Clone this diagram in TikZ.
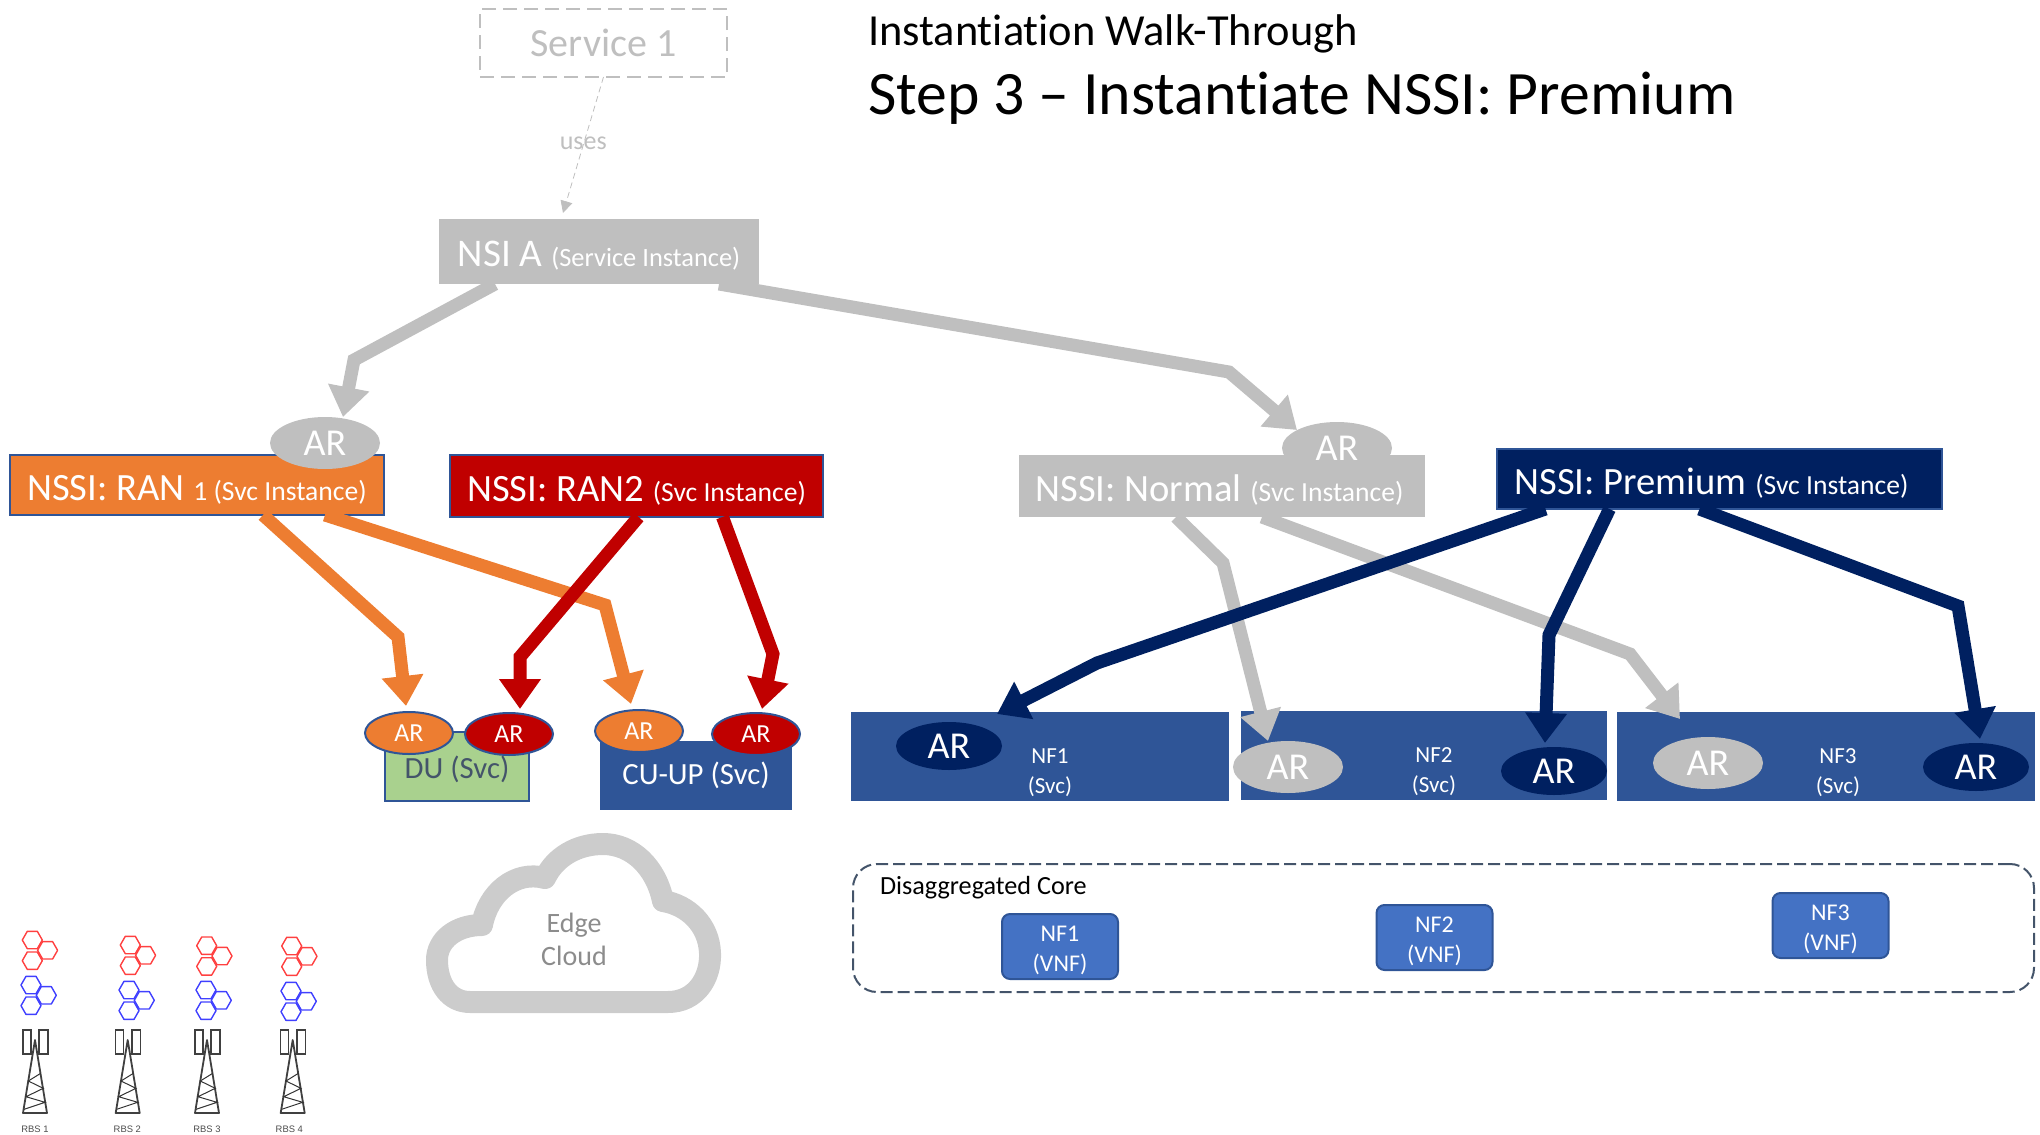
\documentclass[tikz,border=0pt]{standalone}
\usepackage{fontspec}
\setmainfont{Carlito}[Ligatures=CommonOff]
\newfontfamily\rbsfont{Liberation Sans}
\usetikzlibrary{arrows.meta, shapes.geometric, calc}
\definecolor{arorange}{HTML}{ED7D31}
\definecolor{arred}{HTML}{C00000}
\definecolor{arnavy}{HTML}{002060}
\definecolor{argray}{HTML}{BFBFBF}
\definecolor{nfblue}{HTML}{2F5597}
\definecolor{vnfblue}{HTML}{4472C4}
\definecolor{dugreen}{HTML}{A9D18E}
\definecolor{slate}{HTML}{44546A}
\newcommand{\bigsmall}[2]{\raisebox{0pt}[17pt][2pt]{{\fontsize{19.3}{22}\selectfont #1}{\fontsize{13.8}{16}\selectfont #2}}}
\newcommand{\vnflabel}[1]{\rule{0pt}{12pt}#1\\(VNF)}
\tikzset{
    box/.style={rectangle, inner sep=0pt, outer sep=0pt, text=white},
    arnode/.style={ellipse, inner sep=0pt, outer sep=0pt, text=white, minimum width=#1, minimum height=26pt, font=\fontsize{19}{21}\selectfont},
    arsmall/.style={ellipse, inner sep=0pt, outer sep=0pt, text=white, draw=nfblue, line width=1pt, minimum width=44pt, minimum height=21pt, font=\fontsize{13}{15}\selectfont},
    link/.style={line width=#1, -{Triangle[width=20pt,length=15pt]}},
    hexcell/.pic={\draw[line width=0.7pt, line join=round] (-10,0) -- (-5,-8.7) -- (5,-8.7) -- (10,0) -- (5,8.7) -- (-5,8.7) -- cycle;},
    hexcluster/.pic={\pic {hexcell}; \pic at (0,20.7) {hexcell}; \pic at (15.3,10.3) {hexcell};},
    tower/.pic={
        \draw[black!75, line width=0.8pt] (-12.3,-10) rectangle (-4.3,14);
        \draw[black!75, line width=0.8pt] (4,-10) rectangle (12.7,14);
        \draw[black!75, line width=0.9pt, line join=round] (-12,73) -- (0,0) -- (12,73) -- cycle;
        \draw[black!80, line width=0.5pt] (5.7,33.3) -- (-6.7,41) -- (8.3,48.3) -- (-9,56.7) -- (10,62.3) -- (-11,69.3);
    }
}
\begin{document}
\begin{tikzpicture}[x=0.5pt, y=-0.5pt]
    \useasboundingbox (0,0) rectangle (2040,1135);

    \node[anchor=west, font=\fontsize{22.2}{26}\selectfont] (walk) at (861,34) {Instantiation Walk-Through};
    \node[anchor=west, font=\fontsize{30.85}{36}\selectfont] (step) at (861,98) {Step 3 – Instantiate NSSI: Premium};

    \node[box, draw=argray, dashed, line width=1pt, dash pattern=on 7pt off 3.5pt, text=argray, minimum width=123.5pt, minimum height=34pt, font=\fontsize{20}{22}\selectfont] (service) at (603.5,43) {Service 1};
    \node[box, fill=argray, minimum width=160pt, minimum height=32.5pt] (nsi) at (599,251.5) {\raisebox{0pt}[17pt][2pt]{{\fontsize{19.6}{22}\selectfont NSI A }{\fontsize{13.2}{15}\selectfont (Service Instance)}}};
    \draw[argray, densely dashed, line width=0.4pt, -{Triangle[width=6pt,length=6pt]}] (service.south) -- ([xshift=-18pt,yshift=3pt]nsi.north) node[midway, inner sep=1pt, text=argray, yshift=1pt, font=\fontsize{13}{15}\selectfont] (uses) {uses};

    \node[box, fill=arorange, draw=nfblue, line width=1pt, minimum width=187pt, minimum height=30pt] (ran1) at (197,485) {\bigsmall{NSSI: RAN }{1 (Svc Instance)}};
    \node[box, fill=arred, draw=nfblue, line width=1pt, minimum width=186.5pt, minimum height=31pt] (ran2) at (636.5,486) {\bigsmall{NSSI: RAN2 }{(Svc Instance)}};
    \node[box, fill=argray, minimum width=203pt, minimum height=31pt] (normal) at (1222,486) {\hspace*{-2.5pt}\bigsmall{NSSI: Normal }{(Svc Instance)}};
    \node[box, fill=arnavy, draw=nfblue, line width=1pt, minimum width=222.5pt, minimum height=30pt] (premium) at (1719.5,479) {\hspace*{-8pt}\bigsmall{NSSI: Premium }{(Svc Instance)}};
    \node[arnode=55pt, fill=argray] (arran) at (325,443) {AR};
    \node[arnode=55pt, fill=argray] (arnormal) at (1337,448) {AR};

    \node[box, fill=dugreen, draw=nfblue, line width=1pt, minimum width=72pt, minimum height=34.5pt] (du) at (457,766.5) {};
    \node[text=slate, font=\fontsize{15.4}{18}\selectfont] (dulabel) at (457,769) {DU (Svc)};
    \node[box, fill=nfblue, minimum width=96pt, minimum height=34.5pt, font=\fontsize{15.4}{18}\selectfont] (cuup) at (696,775) {CU-UP (Svc)};
    \node[arsmall, fill=arorange] (ardua) at (409,733) {AR};
    \node[arsmall, fill=arred] (ardub) at (509,734) {AR};
    \node[arsmall, fill=arorange] (arcua) at (639,731) {AR};
    \node[arsmall, fill=arred] (arcub) at (756,734) {AR};

    \node[box, fill=nfblue, minimum width=189pt, minimum height=44.5pt] (nfa) at (1040,756.5) {};
    \node[box, fill=nfblue, minimum width=183pt, minimum height=44.5pt] (nfb) at (1424,755.5) {};
    \node[box, fill=nfblue, minimum width=209pt, minimum height=44.5pt] (nfc) at (1826,756.5) {};
    \node[text=white, align=center, font=\fontsize{11.5}{15}\selectfont] (nfalabel) at (1050,773) {NF1\\(Svc)};
    \node[text=white, align=center, font=\fontsize{11.5}{15}\selectfont] (nfblabel) at (1434,772) {NF2\\(Svc)};
    \node[text=white, align=center, font=\fontsize{11.5}{15}\selectfont] (nfclabel) at (1838,773) {NF3\\(Svc)};
    \node[arnode=53pt, minimum height=24pt, fill=arnavy] (arnfa) at (949,746) {AR};
    \node[arnode=55pt, fill=argray] (arnfbg) at (1288,767) {AR};
    \node[arnode=53pt, minimum height=24pt, fill=arnavy] (arnfb) at (1554,771) {AR};
    \node[arnode=55pt, fill=argray] (arnfcg) at (1708,763) {AR};
    \node[arnode=53pt, minimum height=24pt, fill=arnavy] (arnfc) at (1976,767) {AR};

    \draw[argray, link=6.5pt] ([xshift=-52pt]nsi.south) -- (354,360) -- ([xshift=9pt]arran.north);
    \draw[argray, link=6.5pt] ([xshift=60pt]nsi.south) -- (1229,372) -- ([xshift=-20pt,yshift=-4pt]arnormal.north);
    \draw[argray, link=6.5pt] ([xshift=-23pt]normal.south) -- (1223,563) -- ([xshift=-10pt]arnfbg.north);
    \draw[argray, link=6.5pt] ([xshift=20pt]normal.south) -- (1630,654) -- ([xshift=-14pt,yshift=9pt]arnfcg.north);

    \draw[arorange, link=6.5pt] ([xshift=33pt]ran1.south) -- (398,637) -- ([xshift=-1.5pt,yshift=3pt]ardua.north);
    \draw[arorange, link=6.5pt] ([xshift=64pt]ran1.south) -- (605,605) -- ([xshift=-4pt,yshift=3pt]arcua.north);
    \draw[arred, link=6.5pt] ([xshift=1pt]ran2.south) -- (520,657) -- ([xshift=5.5pt,yshift=2pt]ardub.north);
    \draw[arred, link=6.5pt] ([xshift=43pt]ran2.south) -- (773,654) -- ([xshift=3pt,yshift=2pt]arcub.north);

    \draw[arnavy, link=6.5pt] ([xshift=-87pt]premium.south) -- (1097,663) -- ([xshift=24pt,yshift=4pt]arnfa.north);
    \draw[arnavy, link=6.5pt] ([xshift=-55pt]premium.south) -- (1549,635) -- ([xshift=-4.5pt,yshift=2pt]arnfb.north);
    \draw[arnavy, link=6.5pt] ([xshift=-10pt]premium.south) -- (1958,606) -- ([xshift=2pt,yshift=2pt]arnfc.north);

    \node[box, draw=slate, line width=1pt, dashed, dash pattern=on 6pt off 2.5pt, rounded corners=12pt, minimum width=590.5pt, minimum height=64pt] (core) at (1443.5,928) {};
    \node[anchor=west, font=\fontsize{13.1}{15}\selectfont] (corelabel) at (873,888) {Disaggregated Core};
    \node[box, fill=vnfblue, draw=nfblue, line width=1pt, rounded corners=4pt, align=center, minimum width=58pt, minimum height=32.5pt, font=\fontsize{12}{15}\selectfont] (vnfa) at (1060,946.5) {\vnflabel{NF1}};
    \node[box, fill=vnfblue, draw=nfblue, line width=1pt, rounded corners=4pt, align=center, minimum width=58pt, minimum height=32.5pt, font=\fontsize{12}{15}\selectfont] (vnfb) at (1434.5,937.5) {\vnflabel{NF2}};
    \node[box, fill=vnfblue, draw=nfblue, line width=1pt, rounded corners=4pt, align=center, minimum width=58pt, minimum height=32.5pt, font=\fontsize{12}{15}\selectfont] (vnfc) at (1830.5,925.5) {\vnflabel{NF3}};

    \draw[black!20, line width=11pt, line join=round] (470,1002) -- (668,1002)
        .. controls (696,1002) and (711,978) .. (710,953)
        .. controls (709,925) and (688,905) .. (663,901)
        .. controls (656,867) and (632,844) .. (603,844)
        .. controls (577,844) and (555,857) .. (545,878)
        .. controls (515,870) and (488,893) .. (482,925)
        .. controls (456,925) and (437,940) .. (437,960)
        .. controls (437,985) and (450,1002) .. (470,1002) -- cycle;
    \node[text=black!45, align=center, font=\fontsize{14}{16.5}\selectfont] (edge) at (574,939) {Edge\\Cloud};

    \foreach \rx/\ry/\bx/\by/\tx/\lx/\i in {32.3/940/31/985/35/35/1, 130.3/945/129/990/127.7/127.3/2, 206.7/945.7/206/990/207/207/3, 291.7/946/291/991/292.7/289.3/4} {
        \pic[red!75] at (\rx,\ry) {hexcluster};
        \pic[blue!75] at (\bx,\by) {hexcluster};
        \pic at (\tx,1040) {tower};
        \node[text=black!70, font=\rbsfont\fontsize{4.7}{6}\selectfont] (rbs\i) at (\lx,1129) {RBS \i};
    }
\end{tikzpicture}
\end{document}
